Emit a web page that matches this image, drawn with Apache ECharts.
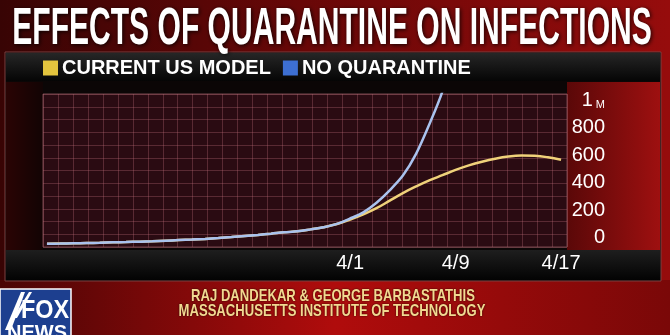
<!DOCTYPE html>
<html>
<head>
<meta charset="utf-8">
<script src="https://cdn.jsdelivr.net/npm/echarts@6/dist/echarts.min.js"></script>
<style>html,body{margin:0;padding:0;background:#000}#c{width:670px;height:335px}</style>
</head>
<body>
<div id="c"></div>
<script>
// ---- data (values in thousands of infections) ----
const dates = ['3/9','3/10','3/11','3/12','3/13','3/14','3/15','3/16','3/17','3/18','3/19','3/20','3/21','3/22','3/23','3/24','3/25','3/26','3/27','3/28','3/29','3/30','3/31',
  '4/1','4/2','4/3','4/4','4/5','4/6','4/7','4/8','4/9','4/10','4/11','4/12','4/13','4/14','4/15','4/16','4/17'];
const currentUsModel = [2,3,5,7,9,12,14,17,20,24,28,32,37,43,50,58,66,75,85,92,106,122,145,
  178,215,260,315,370,418,462,500,538,571,598,620,636,643,641,630,612];
const noQuarantine = [2,3,5,7,9,12,14,17,20,24,28,32,37,43,50,58,66,75,85,92,106,122,146,
  185,230,300,390,497,655,868,1109,1450];
const xTickLabels = ['4/1','4/9','4/17'];
const yTickValues = [0,200,400,600,800,1000];
const seriesNames = ['CURRENT US MODEL','NO QUARANTINE'];
const titleText = 'EFFECTS OF QUARANTINE ON INFECTIONS';
const creditLines = ['RAJ DANDEKAR & GEORGE BARBASTATHIS','MASSACHUSETTS INSTITUTE OF TECHNOLOGY'];

const chart = echarts.init(document.getElementById('c'));
const toPairs = arr => arr.map((v,i)=>[i,v]);
const narrow = '"Liberation Sans Narrow","Liberation Sans",sans-serif';

chart.setOption({
  animation:false,
  backgroundColor:'#000',
  graphic:[
    {type:'rect', z:-10, shape:{x:0,y:0,width:670,height:335},
      style:{fill:{type:'linear',x:0,y:0,x2:1,y2:0,colorStops:[
        {offset:0,color:'#380404'},{offset:0.45,color:'#680707'},{offset:1,color:'#960c0c'}]}}},
    {type:'rect', z:-9, shape:{x:0,y:280,width:670,height:55},
      style:{fill:{type:'linear',x:0,y:0,x2:1,y2:0,colorStops:[
        {offset:0,color:'#4a0505'},{offset:0.5,color:'#b00c0c'},{offset:1,color:'#7a0808'}]}}},
    // frame panel
    {type:'rect', z:-8, shape:{x:5,y:52,width:656,height:229},
      style:{fill:'#0b0606', stroke:'#7a4040', lineWidth:1}},
    // legend band
    {type:'rect', z:-7, shape:{x:6,y:53,width:654,height:28},
      style:{fill:{type:'linear',x:0,y:0,x2:0,y2:1,colorStops:[
        {offset:0,color:'#262626'},{offset:1,color:'#050505'}]}}},
    // left dark strip
    {type:'rect', z:-7, shape:{x:6,y:82,width:37,height:168},
      style:{fill:{type:'linear',x:0,y:0,x2:1,y2:0,colorStops:[
        {offset:0,color:'#2a0404'},{offset:1,color:'#120404'}]}}},
    // right red area with y labels
    {type:'rect', z:-7, shape:{x:567,y:82,width:93,height:168},
      style:{fill:{type:'linear',x:0,y:0,x2:1,y2:0,colorStops:[
        {offset:0,color:'#5a0808'},{offset:1,color:'#9e1010'}]}}},
    // x label band
    {type:'rect', z:-7, shape:{x:6,y:250,width:654,height:30},
      style:{fill:{type:'linear',x:0,y:0,x2:0,y2:1,colorStops:[
        {offset:0,color:'#1e1e1e'},{offset:1,color:'#030303'}]}}},
    // title
    {type:'text', z:100, x:332, y:30, scaleX:0.578,
      style:{text:titleText, fill:'#ffffff', font:'bold 52px '+narrow,
        textAlign:'center', textVerticalAlign:'middle', textShadowColor:'rgba(0,0,0,0.85)', textShadowBlur:4, textShadowOffsetX:1, textShadowOffsetY:1}},
    // credits
    {type:'text', z:100, x:333, y:296, scaleX:0.77,
      style:{text:creditLines[0], fill:'#f2d890', font:'bold 17px '+narrow,
        textAlign:'center', textVerticalAlign:'middle', textShadowColor:'rgba(0,0,0,0.8)', textShadowBlur:2}},
    {type:'text', z:100, x:332, y:311.5, scaleX:0.77,
      style:{text:creditLines[1], fill:'#f2d890', font:'bold 17px '+narrow,
        textAlign:'center', textVerticalAlign:'middle', textShadowColor:'rgba(0,0,0,0.8)', textShadowBlur:2}},
    // FOX NEWS logo
    {type:'rect', z:100, shape:{x:0,y:289,width:71,height:50},
      style:{fill:'#1d3f8f', stroke:'#ffffff', lineWidth:1.5}},
    {type:'polygon', z:101, shape:{points:[[5,330],[21,292],[25,292],[11,330]]}, style:{fill:'#ffffff'}},
    {type:'polygon', z:101, shape:{points:[[13,318],[29,292],[32,292],[17,318]]}, style:{fill:'#ffffff'}},
    {type:'text', z:102, x:45, y:311, scaleX:0.9,
      style:{text:'FOX', fill:'#ffffff', font:'bold 26px '+narrow,
        textAlign:'center', textVerticalAlign:'middle'}},
    {type:'text', z:102, x:37, y:333,
      style:{text:'NEWS', fill:'#ffffff', font:'bold 20px '+narrow,
        textAlign:'center', textVerticalAlign:'middle'}}
  ],
  legend:{
    left:38, top:53, itemWidth:15, itemHeight:15, itemGap:12, icon:'rect',
    textStyle:{color:'#ffffff', fontSize:20, fontWeight:'bold', fontFamily:'"Liberation Sans",Arial,sans-serif', padding:[0,0,0,-1]},
    data:[{name:seriesNames[0], itemStyle:{color:'#e3c43e'}},{name:seriesNames[1], itemStyle:{color:'#3d6fd2'}}]
  },
  grid:{left:43, right:103, top:94, bottom:88, show:true, backgroundColor:'#2a0b12', borderColor:'#74444a', borderWidth:1},
  xAxis:[
    {type:'value', min:-0.3, max:39.45,
      axisLine:{show:false}, axisTick:{show:false}, splitLine:{show:false},
      axisLabel:{customValues:xTickLabels.map(l=>dates.indexOf(l)), formatter:v=>dates[Math.round(v)],
        color:'#ffffff', fontSize:20, fontFamily:'"Liberation Sans",Arial,sans-serif', margin:6}},
    {type:'value', min:0, max:35, interval:1, position:'top',
      axisLine:{show:false}, axisTick:{show:false}, axisLabel:{show:false},
      splitLine:{show:true, lineStyle:{color:'rgba(190,110,120,0.32)', width:1}}}
  ],
  yAxis:[
    {type:'value', min:-22, max:1090, position:'right',
      axisLine:{show:false}, axisTick:{show:false}, splitLine:{show:false},
      axisLabel:{customValues:yTickValues, align:'right', margin:38, padding:[0,0,12,0],
        formatter:v=> v===1000 ? '{a|1}{b| M}' : String(v),
        color:'#ffffff', fontSize:20, fontFamily:'"Liberation Sans",Arial,sans-serif',
        rich:{a:{color:'#ffffff', fontSize:20, fontFamily:'"Liberation Sans",Arial,sans-serif'},
              b:{color:'#ffffff', fontSize:11, fontFamily:'"Liberation Sans",Arial,sans-serif', verticalAlign:'bottom'}}}},
    {type:'value', min:0, max:12, interval:1, position:'left',
      axisLine:{show:false}, axisTick:{show:false}, axisLabel:{show:false},
      splitLine:{show:true, lineStyle:{color:'rgba(190,110,120,0.32)', width:1}}}
  ],
  series:[
    {name:seriesNames[0], type:'line', xAxisIndex:0, yAxisIndex:0, data:toPairs(currentUsModel),
      showSymbol:false, smooth:0.4, clip:true, z:3,
      lineStyle:{color:'#f0d27a', width:2.5}, itemStyle:{color:'#e3c43e'}},
    {name:seriesNames[1], type:'line', xAxisIndex:0, yAxisIndex:0, data:toPairs(noQuarantine),
      showSymbol:false, smooth:0.3, clip:true, z:4,
      lineStyle:{color:'#a9c2ee', width:2.5}, itemStyle:{color:'#3d6fd2'}}
  ]
});
</script>
</body>
</html>
